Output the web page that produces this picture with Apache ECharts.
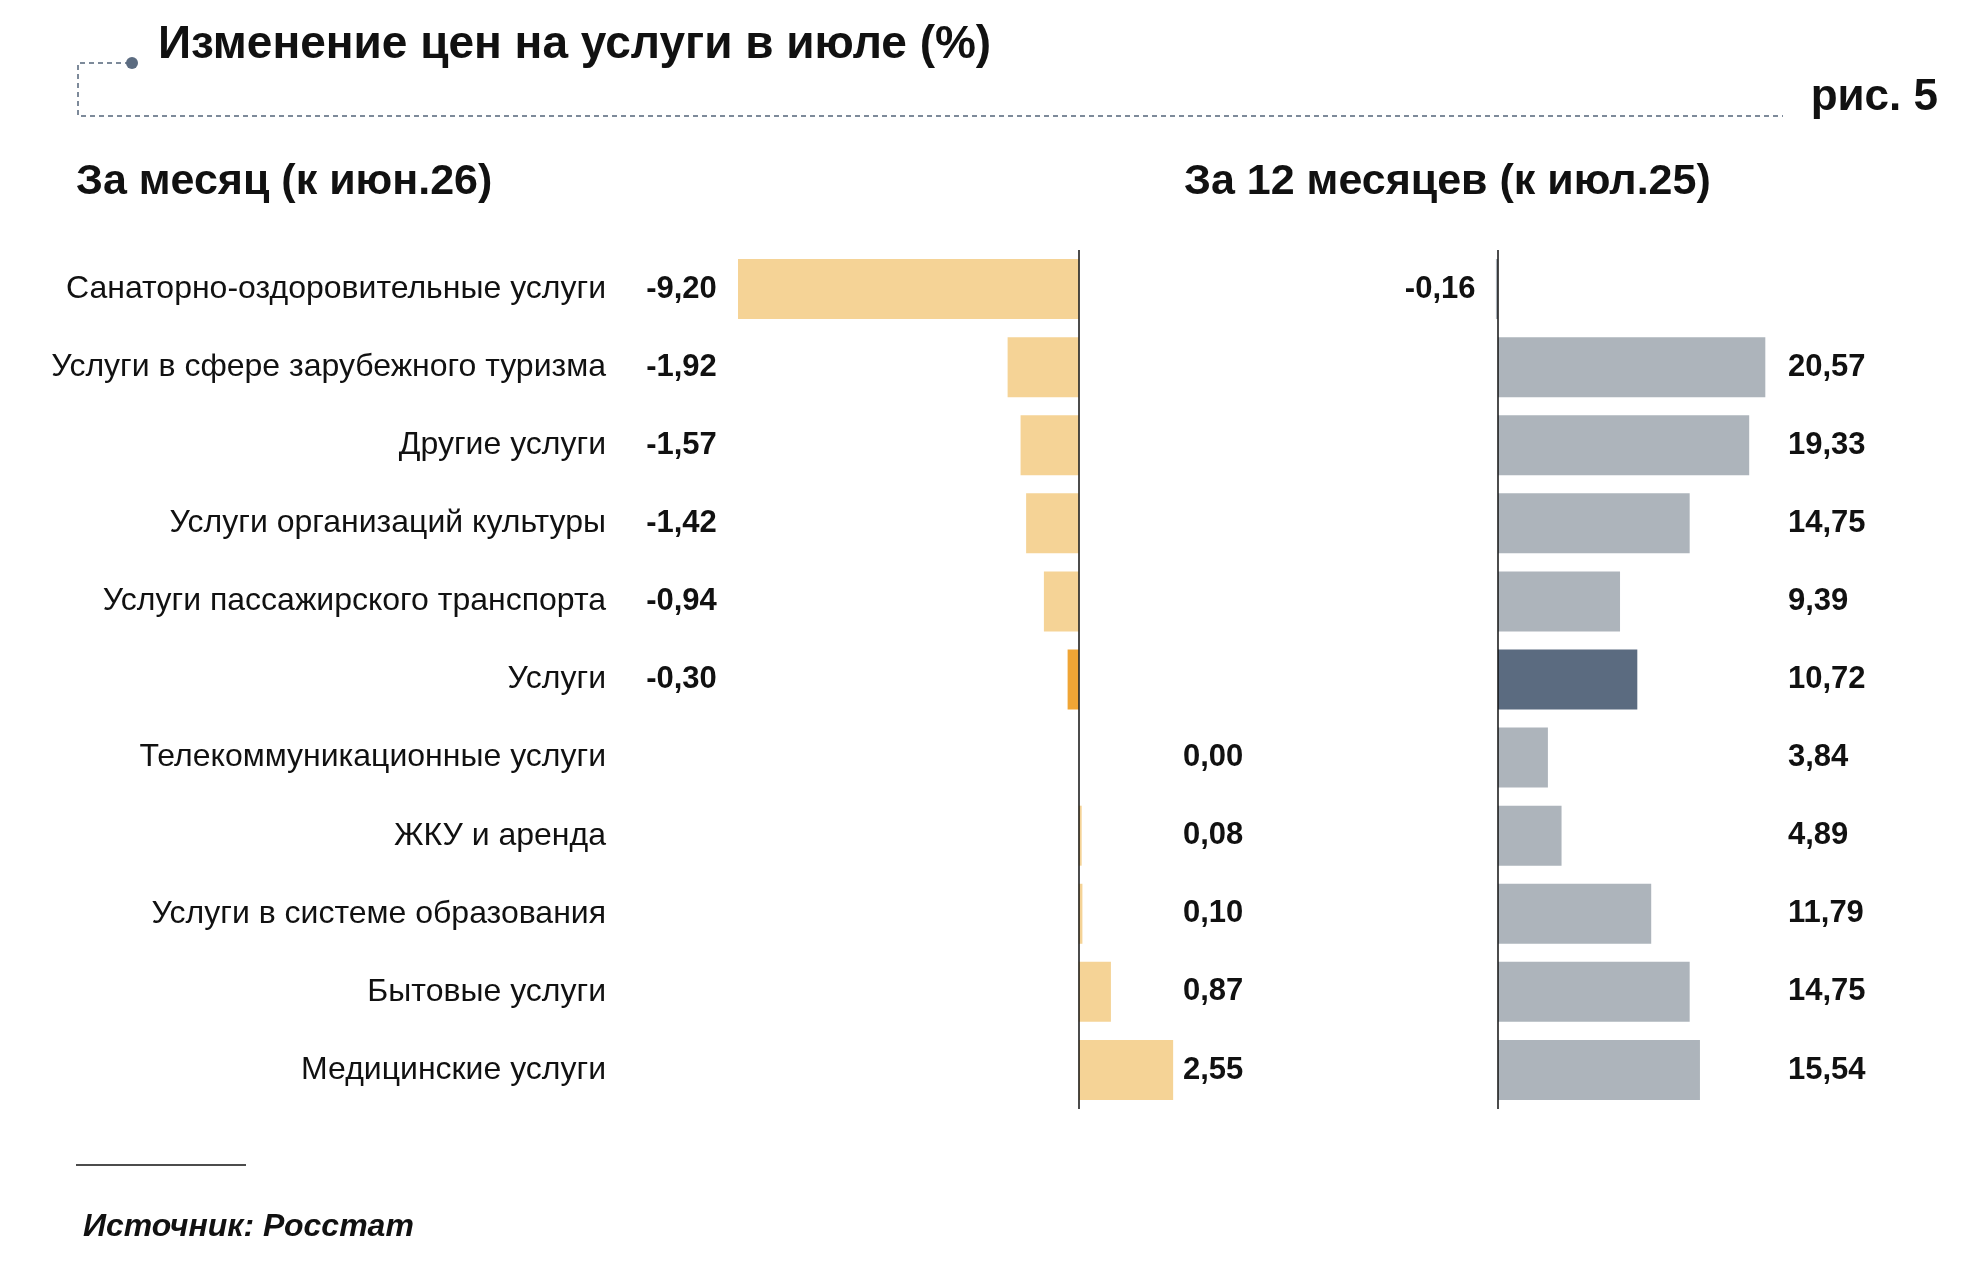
<!DOCTYPE html>
<html><head><meta charset="utf-8">
<script src="https://cdn.jsdelivr.net/npm/echarts@6/dist/echarts.min.js"></script>
<style>html,body{margin:0;background:#fff}#chart{width:1966px;height:1282px}</style>
</head><body><div id="chart"></div>
<script>
var categories = ["Санаторно-оздоровительные услуги", "Услуги в сфере зарубежного туризма", "Другие услуги",
  "Услуги организаций культуры", "Услуги пассажирского транспорта", "Услуги", "Телекоммуникационные услуги",
  "ЖКУ и аренда", "Услуги в системе образования", "Бытовые услуги", "Медицинские услуги"];
var monthValues = [-9.20, -1.92, -1.57, -1.42, -0.94, -0.30, 0.00, 0.08, 0.10, 0.87, 2.55];
var yearValues = [-0.16, 20.57, 19.33, 14.75, 9.39, 10.72, 3.84, 4.89, 11.79, 14.75, 15.54];
var highlight = "Услуги";

var font = "'Liberation Sans', Arial, sans-serif";
function fmt(v) { return v.toFixed(2).replace('.', ','); }

var myChart = echarts.init(document.getElementById('chart'));
var option = {
  textStyle: { fontFamily: font },
  animation: false,
  grid: [
    { left: 738, width: 437, top: 250, height: 859 },
    { left: 1491.5, width: 288.5, top: 250, height: 859 }
  ],
  xAxis: [
    { gridIndex: 0, type: 'value', min: -9.2, max: 2.6, show: false },
    { gridIndex: 1, type: 'value', min: -0.5, max: 21.7, show: false }
  ],
  yAxis: [
    { gridIndex: 0, type: 'category', data: categories, inverse: true, position: 'left',
      axisLine: { show: false }, axisTick: { show: false },
      axisLabel: { margin: 0, formatter: function (c, i) {
          var v = monthValues[i];
          return '{n|' + c + '}{v|' + (v < 0 ? fmt(v) : '') + '}';
        },
        rich: { n: { fontSize: 32, color: '#111', fontFamily: font },
                v: { fontSize: 31, fontWeight: 'bold', color: '#111', width: 113, padding: [0, 0, 0, 19], align: 'left', fontFamily: font } } } },
    { gridIndex: 0, type: 'category', data: categories, inverse: true, position: 'right',
      axisLine: { show: false }, axisTick: { show: false },
      axisLabel: { margin: 8, fontSize: 31, fontWeight: 'bold', color: '#111',
        formatter: function (c, i) { return monthValues[i] >= 0 ? fmt(monthValues[i]) : ''; } } },
    { gridIndex: 1, type: 'category', data: categories, inverse: true, position: 'left',
      axisLine: { show: false }, axisTick: { show: false },
      axisLabel: { margin: 16, fontSize: 31, fontWeight: 'bold', color: '#111',
        formatter: function (c, i) { return yearValues[i] < 0 ? fmt(yearValues[i]) : ''; } } },
    { gridIndex: 1, type: 'category', data: categories, inverse: true, position: 'right',
      axisLine: { show: false }, axisTick: { show: false },
      axisLabel: { margin: 8, fontSize: 31, fontWeight: 'bold', color: '#111',
        formatter: function (c, i) { return yearValues[i] >= 0 ? fmt(yearValues[i]) : ''; } } }
  ],
  series: [
    { type: 'bar', xAxisIndex: 0, yAxisIndex: 0, barWidth: 60,
      data: monthValues.map(function (v, i) {
        return { value: v, itemStyle: { color: categories[i] === highlight ? '#F0A535' : '#F5D396' } };
      }),
      markLine: { symbol: 'none', silent: true, label: { show: false },
        lineStyle: { color: '#111', width: 1.5, type: 'solid' }, data: [{ xAxis: 0 }] } },
    { type: 'bar', xAxisIndex: 1, yAxisIndex: 2, barWidth: 60,
      data: yearValues.map(function (v, i) {
        return { value: v, itemStyle: { color: categories[i] === highlight ? '#5B6B80' : '#ADB4BB' } };
      }),
      markLine: { symbol: 'none', silent: true, label: { show: false },
        lineStyle: { color: '#111', width: 1.5, type: 'solid' }, data: [{ xAxis: 0 }] } }
  ],
  graphic: [
    { type: 'text', left: 158, top: 22, style: { text: 'Изменение цен на услуги в июле (%)', font: 'bold 46px ' + font, fill: '#111' } },
    { type: 'text', right: 28, top: 76, style: { text: 'рис. 5', font: 'bold 44px ' + font, fill: '#111' } },
    { type: 'polyline', shape: { points: [[130, 63], [78, 63], [78, 116], [1783, 116]] },
      style: { stroke: '#7D8A9A', lineWidth: 2, lineDash: [5, 4], fill: null } },
    { type: 'circle', shape: { cx: 132, cy: 63, r: 6 }, style: { fill: '#5B6B80' } },
    { type: 'text', left: 76, top: 161, style: { text: 'За месяц (к июн.26)', font: 'bold 43px ' + font, fill: '#111' } },
    { type: 'text', left: 1184, top: 161, style: { text: 'За 12 месяцев (к июл.25)', font: 'bold 43px ' + font, fill: '#111' } },
    { type: 'line', shape: { x1: 76, y1: 1165, x2: 246, y2: 1165 }, style: { stroke: '#111', lineWidth: 1.5 } },
    { type: 'text', left: 83, top: 1211, style: { text: 'Источник: Росстат', font: 'italic bold 32px ' + font, fill: '#111' } }
  ]
};
myChart.setOption(option);
</script></body></html>
